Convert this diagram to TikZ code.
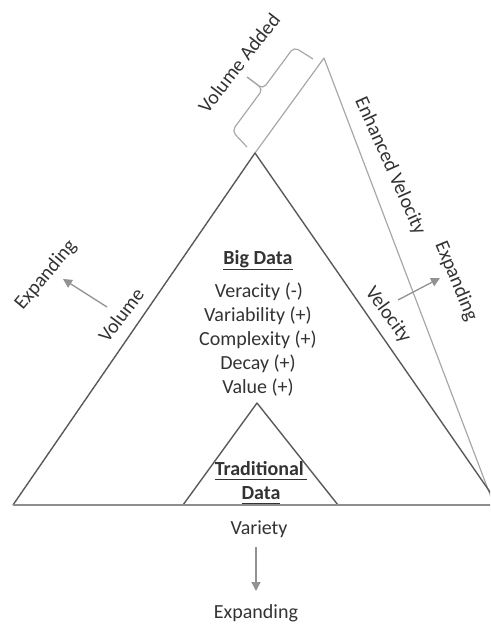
\documentclass[tikz,border=0pt]{standalone}
\usepackage{fontspec}
\setmainfont{Carlito}
\usetikzlibrary{arrows.meta}
\definecolor{txt}{HTML}{333333}
\definecolor{edge}{HTML}{5A5A5A}
\definecolor{baseln}{HTML}{8E8E8E}
\definecolor{light}{HTML}{A8A8A8}
\definecolor{arr}{HTML}{929292}
\newcommand\myul[1]{\leavevmode\vtop{\hbox{#1\vphantom{gy}}\kern0.6pt\hrule height 1.4pt}}
\tikzset{
  lbl/.style={inner sep=0pt, text=txt, font=\fontsize{20}{24}\selectfont},
  edgeline/.style={draw=edge, line width=1.4pt, line join=round},
  baseline/.style={draw=baseln, line width=2.4pt},
  outerline/.style={draw=light, line width=1.2pt, line join=round},
  bracestyle/.style={draw=light, line width=1.2pt, rounded corners=5pt},
  arrowstyle/.style={draw=arr, line width=1.3pt, -{Triangle[width=9pt,length=9pt]}}
}
\begin{document}
\begin{tikzpicture}[x=1pt,y=-1pt]
\useasboundingbox (0,0) rectangle (490,626);
\clip (0,0) rectangle (490,626);
% main triangle
\coordinate (A) at (255,153);
\coordinate (BL) at (13,505);
\coordinate (BR) at (499,505);
% outer enhanced velocity apex
\coordinate (O) at (324,58);
\coordinate (OB) at (494,505);
% inner triangle
\coordinate (IA) at (257,403);
\coordinate (IL) at (183,505);
\coordinate (IR) at (338,505);

\draw[outerline] (A) -- (O) -- (OB);
\draw[edgeline] (BL) -- (A) -- (BR);
\draw[edgeline] (IL) -- (IA) -- (IR);
\draw[baseline] (BL) -- (BR);

% brace
\coordinate (E1) at (247,147);
\coordinate (C1) at (232,131);
\coordinate (S) at (263,89);
\coordinate (T) at (247,77);
\coordinate (C2) at (294,47);
\coordinate (E2) at (313,59);
\draw[bracestyle] (E1) -- (C1) -- (S) -- (T);
\draw[bracestyle] (E2) -- (C2) -- (S) -- (T);

% texts
\node[lbl, anchor=base] (bd) at (258,264.5) {\myul{\textbf{Big Data}}};
\node[lbl, anchor=base] (l1) at (259,297) {Veracity (-)};
\node[lbl, anchor=base] (l2) at (258,321) {Variability (+)};
\node[lbl, anchor=base] (l3) at (258,345) {Complexity (+)};
\node[lbl, anchor=base] (l4) at (258,369) {Decay (+)};
\node[lbl, anchor=base] (l5) at (258,393) {Value (+)};
\node[lbl, anchor=base] (td1) at (261,475) {\myul{\textbf{Traditional\,}}};
\node[lbl, anchor=base] (td2) at (261,499) {\myul{\textbf{Data}}};
\node[lbl, anchor=base] (var) at (259,534.5) {Variety};
\node[lbl, anchor=base] (expB) at (256,618.5) {Expanding};

\node[lbl, rotate=52] (vadd) at (239,63) {Volume Added};
\node[lbl, rotate=53] (vol) at (121,315) {Volume};
\node[lbl, rotate=50] (expL) at (46,275) {Expanding};
\node[lbl, rotate=-54] (vel) at (388,315) {Velocity};
\node[lbl, rotate=-66] (enh) at (390,166) {Enhanced Velocity};
\node[lbl, rotate=-67.5] (expR) at (456,281) {Expanding};

% arrows
\coordinate (aL1) at (107,307);
\coordinate (aL2) at (63,279);
\coordinate (aR1) at (398,300);
\coordinate (aR2) at (440,278);
\coordinate (aB1) at (256,547);
\coordinate (aB2) at (256,591);
\draw[arrowstyle] (aL1) -- (aL2);
\draw[arrowstyle] (aR1) -- (aR2);
\draw[arrowstyle] (aB1) -- (aB2);
\end{tikzpicture}
\end{document}
